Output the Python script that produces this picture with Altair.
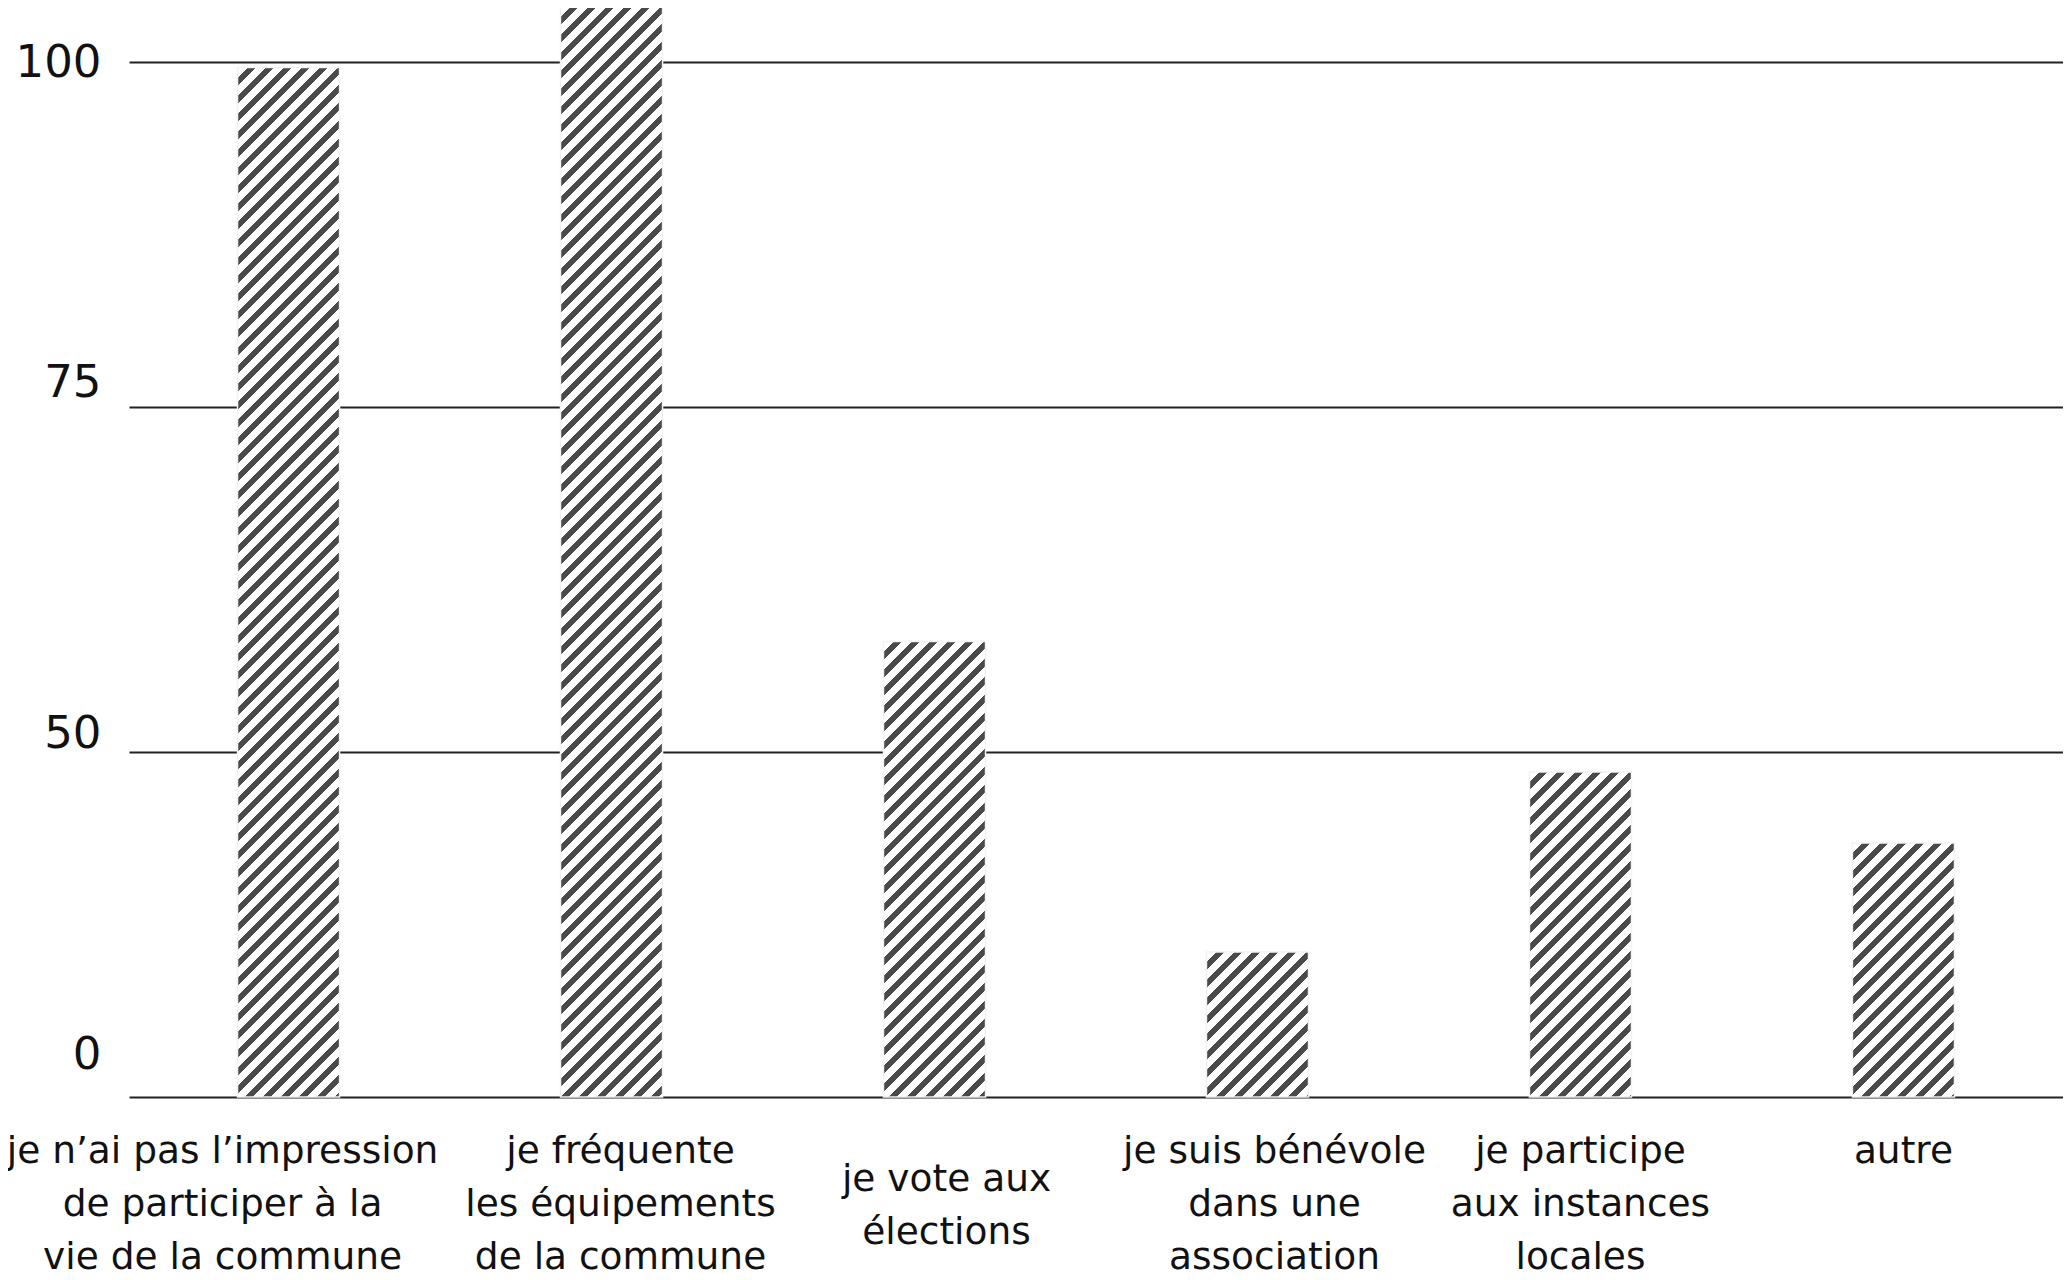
import altair as alt
import pandas as pd
import numpy as np

# ---------------- data ----------------
categories = [
    "je n’ai pas l’impression|de participer à la|vie de la commune",
    "je fréquente|les équipements|de la commune",
    "je vote aux|élections",
    "je suis bénévole|dans une|association",
    "je participe|aux instances|locales",
    "autre",
]
values = [99.6, 104.0, 58.0, 21.0, 47.1, 36.8]
tick_values = [0, 50, 75, 100]

# ---------------- layout ----------------
W, H = 1934, 1089
PAD = {"left": 121, "top": 0, "right": 0, "bottom": 182}
gap = (H - 54) / 3.0
# the reference draws its gridlines equally spaced while labelling them 0, 50, 75, 100
y_domain = [0, 50, 75, 100, 125]
y_range = [H, H - gap, H - 2 * gap, H - 3 * gap, H - 4 * gap]

P_IN, P_OUT = 0.684, 0.336
n = len(categories)
step = W / (n - P_IN + 2 * P_OUT)
bw = step * (1 - P_IN)

FONT = "DejaVu Sans"
DARK = "#4a4a4a"
PERIOD = 18.0   # horizontal period of hatch stripes, px
DARK_FRAC = 0.42


def hatch(value):
    ytop = float(np.interp(value, y_domain, y_range))
    h = H - ytop
    w = bw
    span = w + h
    k = span / (w * w + h * h)
    stops = []
    i = 0
    while i * PERIOD < span:
        a = i * PERIOD / span
        b = min((i + 1 - DARK_FRAC) * PERIOD / span, 1.0)
        c = min((i + 1) * PERIOD / span, 1.0)
        stops += [
            {"offset": a, "color": "#ffffff"},
            {"offset": b, "color": "#ffffff"},
            {"offset": b, "color": DARK},
            {"offset": c, "color": DARK},
        ]
        i += 1
    return {"gradient": "linear", "x1": 0, "y1": 0, "x2": k * w, "y2": k * h, "stops": stops}


df = pd.DataFrame({"cat": categories, "val": values})

x_axis = alt.Axis(
    title=None,
    labelExpr="split(datum.label, '|')",
    labelAngle=0,
    labelFont=FONT,
    labelFontSize=37.5,
    labelColor="#111111",
    labelLineHeight=53,
    labelBaseline="top",
    labelPadding={
        "condition": {"test": "datum.value === 'je vote aux|élections'", "value": 63},
        "value": 35,
    },
    labelOffset={
        "condition": [
            {"test": f"datum.value === '{categories[0]}'", "value": -66},
            {"test": f"datum.value === '{categories[1]}'", "value": 9},
            {"test": f"datum.value === '{categories[2]}'", "value": 12},
            {"test": f"datum.value === '{categories[3]}'", "value": 17},
        ],
        "value": 0,
    },
    labelLimit=0,
    labelOverlap=False,
    ticks=False,
    domain=False,
    grid=False,
)

y_axis = alt.Axis(
    title=None,
    values=tick_values,
    labelFont=FONT,
    labelFontSize=45,
    labelColor="#111111",
    labelPadding=28,
    labelBaseline="middle",
    labelOffset={
        "condition": [
            {"test": "datum.value === 75", "value": -25},
            {"test": "datum.value === 50", "value": -19},
            {"test": "datum.value === 0", "value": -43},
        ],
        "value": 0,
    },
    ticks=False,
    domain=False,
    grid=True,
    gridColor="#222222",
    gridWidth=2,
)

base = alt.Chart(df).encode(
    x=alt.X("cat:N", sort=categories,
            scale=alt.Scale(paddingInner=P_IN, paddingOuter=P_OUT), axis=x_axis),
    y=alt.Y("val:Q",
            scale=alt.Scale(domain=y_domain, range=y_range, nice=False, zero=False),
            axis=y_axis),
    y2=alt.datum(0),
)

layers = [
    base.mark_bar(fill=hatch(v), stroke="#f2f2f2", strokeWidth=1.5)
        .transform_filter(alt.datum.cat == c)
    for c, v in zip(categories, values)
]

chart = (
    alt.layer(*layers)
    .properties(width=W, height=H, autosize="none", padding=PAD, background="white")
    .configure_view(stroke=None)
)

chart.save("out.html", embed_options={"renderer": "svg", "actions": False})
